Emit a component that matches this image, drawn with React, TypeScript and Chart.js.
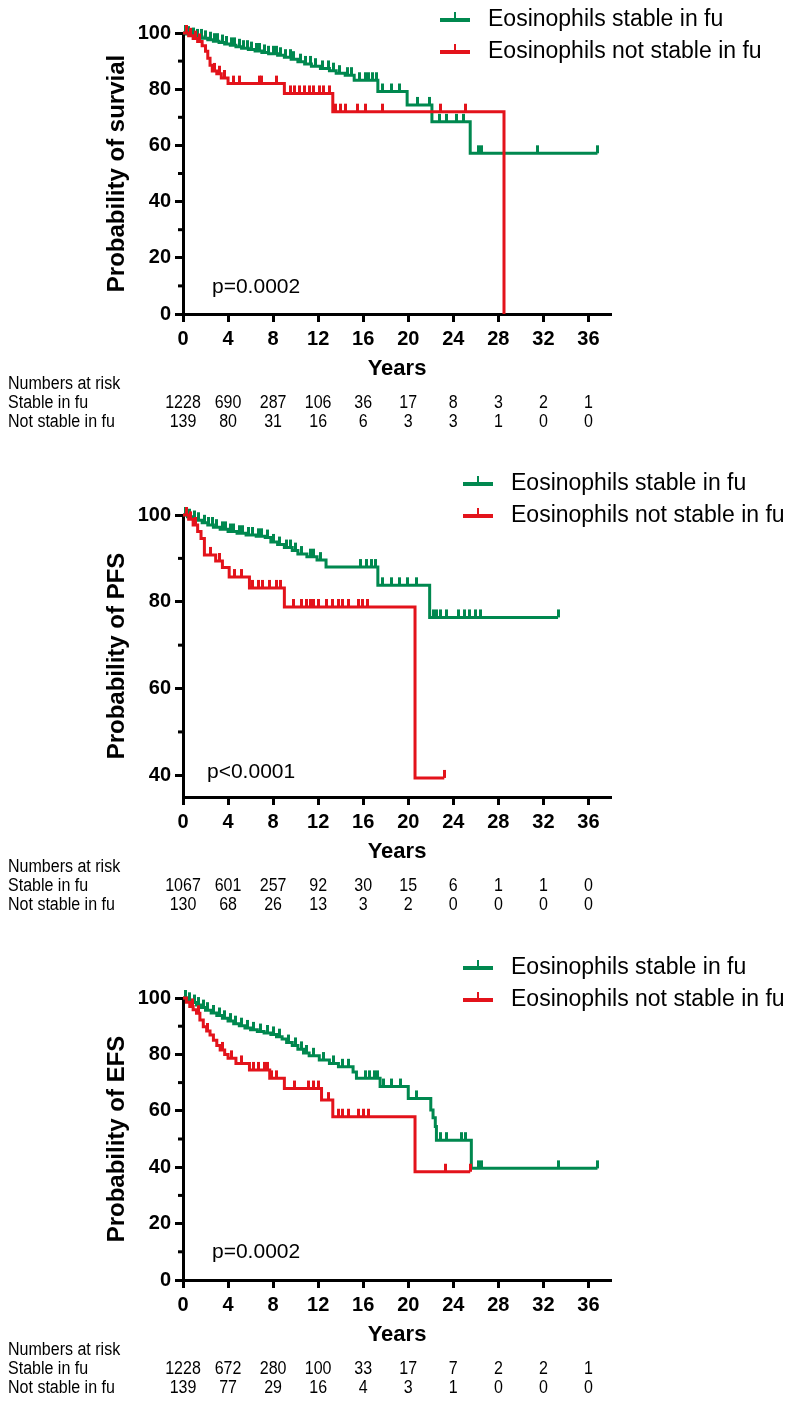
import React, { useEffect, useRef } from 'react';
import { Chart, registerables } from 'chart.js';

Chart.register(...registerables);

const GREEN = '#00884f';
const RED = '#e3131b';
const FONT = '"Liberation Sans", Arial, sans-serif';

const X_TICKS = [0, 4, 8, 12, 16, 20, 24, 28, 32, 36];
const X_MAX = 38;

// ---------- Panel 1: survival ----------
const OS_Y_TICKS = [0, 20, 40, 60, 80, 100];
const OS_Y_MINOR = [10, 30, 50, 70, 90];
const OS_STABLE_T = [0, 0.3, 0.7, 1.2, 1.7, 2.2, 2.7, 3.2, 3.7, 4.2, 4.7, 5.2, 5.8, 6.4, 7.0, 7.6, 8.4, 9.0, 9.6, 10.2, 10.8, 11.4, 12.2, 13.0, 13.6, 14.4, 15.2, 17.3, 19.9, 22.1, 25.5];
const OS_STABLE_S = [100, 99.6, 99.1, 98.6, 98.1, 97.6, 97.1, 96.6, 96.1, 95.6, 95.1, 94.6, 94.1, 93.6, 93.1, 92.6, 92.1, 91.4, 90.7, 89.8, 89.0, 88.2, 87.4, 86.6, 85.7, 85.0, 83.2, 79.2, 74.4, 68.4, 57.2];
const OS_STABLE_C = [0.2, 0.5, 0.9, 1.3, 1.6, 2.0, 2.4, 2.8, 3.1, 3.5, 3.9, 4.3, 4.6, 5.0, 5.4, 5.7, 6.1, 6.5, 6.8, 7.2, 7.6, 8.0, 8.3, 8.7, 9.1, 9.5, 9.8, 10.4, 10.9, 11.3, 11.8, 12.4, 12.9, 13.4, 13.9, 14.6, 15.0, 15.7, 16.2, 16.5, 16.8, 17.2, 17.7, 18.5, 19.2, 20.8, 21.9, 22.8, 23.4, 24.3, 24.9, 26.2, 26.5, 31.5, 36.8];
const OS_NOT_T = [0, 0.5, 0.9, 1.3, 1.7, 2.0, 2.2, 2.4, 2.6, 3.0, 3.4, 4.0, 9.0, 13.3, 28.5];
const OS_NOT_S = [100, 99, 98, 97, 95.5, 93.5, 91, 88.5, 86.5, 85.5, 84, 82, 78.5, 72, 0];
const OS_NOT_C = [0.3, 0.7, 1.1, 1.5, 2.8, 3.2, 3.7, 4.5, 5.0, 6.8, 7.0, 8.3, 9.5, 9.9, 10.3, 10.8, 11.2, 11.6, 12.1, 12.5, 13.0, 13.5, 14.0, 14.4, 15.5, 16.2, 17.7, 22.9, 25.1];
const OS_RISK_STABLE = [1228, 690, 287, 106, 36, 17, 8, 3, 2, 1];
const OS_RISK_NOT = [139, 80, 31, 16, 6, 3, 3, 1, 0, 0];

// ---------- Panel 2: PFS ----------
const PFS_Y_TICKS = [40, 60, 80, 100];
const PFS_Y_MINOR = [50, 70, 90];
const PFS_STABLE_T = [0, 0.4, 0.8, 1.2, 1.7, 2.2, 2.7, 3.3, 4.0, 4.8, 5.6, 6.5, 7.3, 7.8, 8.4, 9.0, 9.7, 10.2, 11.0, 11.9, 12.7, 17.3, 21.9];
const PFS_STABLE_S = [100, 99.6, 99.2, 98.8, 98.2, 97.7, 97.2, 96.7, 96.2, 95.8, 95.4, 95.1, 94.8, 93.8, 93.2, 92.5, 91.8, 91.0, 90.4, 89.6, 88.0, 83.8, 76.4];
const PFS_STABLE_C = [0.2, 0.6, 1.0, 1.4, 1.9, 2.3, 2.6, 3.0, 3.5, 3.8, 4.2, 4.5, 5.0, 5.3, 5.8, 6.2, 6.7, 7.0, 7.5, 8.0, 8.6, 9.2, 9.5, 10.0, 10.5, 11.3, 11.6, 12.2, 15.8, 16.3, 16.7, 17.1, 17.7, 18.5, 19.2, 19.9, 20.7, 22.2, 22.5, 22.9, 23.4, 24.5, 25.0, 25.4, 26.0, 26.4, 33.3];
const PFS_NOT_T = [0, 0.5, 0.9, 1.3, 1.6, 1.9, 2.9, 3.5, 4.1, 5.9, 9.0, 20.6];
const PFS_NOT_S = [100, 99, 97.7, 96.2, 94.6, 90.8, 89.4, 87.9, 85.7, 83.2, 78.8, 39.4];
const PFS_NOT_C = [0.3, 0.7, 1.1, 2.4, 3.2, 4.6, 5.2, 6.2, 6.7, 7.1, 7.7, 8.3, 8.7, 9.8, 10.5, 11.0, 11.3, 11.6, 12.0, 12.7, 13.3, 13.8, 14.2, 14.7, 15.6, 15.9, 16.4, 23.2];
const PFS_RISK_STABLE = [1067, 601, 257, 92, 30, 15, 6, 1, 1, 0];
const PFS_RISK_NOT = [130, 68, 26, 13, 3, 2, 0, 0, 0, 0];

// ---------- Panel 3: EFS ----------
const EFS_Y_TICKS = [0, 20, 40, 60, 80, 100];
const EFS_Y_MINOR = [10, 30, 50, 70, 90];
const EFS_STABLE_T = [0, 0.4, 0.8, 1.2, 1.6, 2.0, 2.5, 3.0, 3.5, 4.0, 4.5, 5.0, 5.5, 6.0, 6.6, 7.2, 7.8, 8.3, 8.8, 9.2, 9.7, 10.2, 10.7, 11.2, 12.1, 13.0, 13.8, 15.1, 15.4, 17.5, 20.0, 22.0, 22.2, 22.4, 22.5, 25.6];
const EFS_STABLE_S = [100, 99.2, 98.4, 97.5, 96.6, 95.7, 94.7, 93.8, 92.8, 91.8, 90.9, 90.2, 89.4, 88.7, 88.1, 87.6, 87.1, 86.3, 85.5, 84.2, 83.2, 81.8, 80.5, 79.5, 78.0, 76.8, 75.6, 73.8, 71.5, 68.6, 64.4, 60.3, 57.5, 54.4, 49.6, 39.6];
const EFS_STABLE_C = [0.2, 0.6, 1.0, 1.4, 1.8, 2.2, 2.7, 3.2, 3.7, 4.2, 4.7, 5.2, 5.7, 6.3, 6.9, 7.5, 8.0, 8.6, 9.4, 10.0, 10.5, 11.0, 11.6, 12.5, 13.4, 14.2, 14.7, 16.2, 16.6, 17.0, 17.3, 17.8, 18.5, 19.3, 20.7, 22.9, 23.4, 24.7, 25.1, 26.2, 26.5, 33.3, 36.8];
const EFS_NOT_T = [0, 0.3, 0.6, 0.9, 1.2, 1.5, 1.8, 2.1, 2.4, 2.7, 3.0, 3.3, 3.7, 4.0, 4.7, 5.9, 7.7, 9.0, 12.3, 13.3, 20.6];
const EFS_NOT_S = [100, 98.5, 97, 95.8, 94.6, 92.2, 89.8, 88.3, 86.9, 85, 83.2, 81.6, 80, 78.6, 76.8, 74.5, 71.5, 67.9, 63.8, 57.9, 38.4];
const EFS_NOT_C = [0.8, 1.4, 2.2, 3.5, 4.3, 5.2, 6.3, 6.7, 7.2, 7.5, 7.9, 8.3, 9.9, 11.1, 11.6, 12.0, 12.9, 13.8, 14.2, 14.7, 15.6, 16.0, 16.5, 23.3, 25.5];
const EFS_RISK_STABLE = [1228, 672, 280, 100, 33, 17, 7, 2, 2, 1];
const EFS_RISK_NOT = [139, 77, 29, 16, 4, 3, 1, 0, 0, 0];

const LEGEND_STABLE = 'Eosinophils stable in fu';
const LEGEND_NOT = 'Eosinophils not stable in fu';
const RISK_HEAD = 'Numbers at risk';
const RISK_LABEL_STABLE = 'Stable in fu';
const RISK_LABEL_NOT = 'Not stable in fu';

type Cfg = {
  top: number; height: number; areaTop: number; areaBottom: number;
  yMin: number; yTicks: number[]; yMinor: number[]; yTitle: string;
  pText: string; pX: number; pY: number;
  legendX: number; legendY1: number; legendY2: number;
  gT: number[]; gS: number[]; gC: number[];
  rT: number[]; rS: number[]; rC: number[];
  riskStable: number[]; riskNot: number[];
};

const PANELS: Cfg[] = [
  {
    top: 0, height: 440, areaTop: 33, areaBottom: 314, yMin: 0, yTicks: OS_Y_TICKS, yMinor: OS_Y_MINOR,
    yTitle: 'Probability of survial', pText: 'p=0.0002', pX: 212, pY: 287,
    legendX: 440, legendY1: 20, legendY2: 52,
    gT: OS_STABLE_T, gS: OS_STABLE_S, gC: OS_STABLE_C, rT: OS_NOT_T, rS: OS_NOT_S, rC: OS_NOT_C,
    riskStable: OS_RISK_STABLE, riskNot: OS_RISK_NOT,
  },
  {
    top: 460, height: 460, areaTop: 55, areaBottom: 337, yMin: 35, yTicks: PFS_Y_TICKS, yMinor: PFS_Y_MINOR,
    yTitle: 'Probability of PFS', pText: 'p<0.0001', pX: 207, pY: 312,
    legendX: 463, legendY1: 24, legendY2: 56,
    gT: PFS_STABLE_T, gS: PFS_STABLE_S, gC: PFS_STABLE_C, rT: PFS_NOT_T, rS: PFS_NOT_S, rC: PFS_NOT_C,
    riskStable: PFS_RISK_STABLE, riskNot: PFS_RISK_NOT,
  },
  {
    top: 930, height: 474, areaTop: 68, areaBottom: 350, yMin: 0, yTicks: EFS_Y_TICKS, yMinor: EFS_Y_MINOR,
    yTitle: 'Probability of EFS', pText: 'p=0.0002', pX: 212, pY: 322,
    legendX: 463, legendY1: 38, legendY2: 70,
    gT: EFS_STABLE_T, gS: EFS_STABLE_S, gC: EFS_STABLE_C, rT: EFS_NOT_T, rS: EFS_NOT_S, rC: EFS_NOT_C,
    riskStable: EFS_RISK_STABLE, riskNot: EFS_RISK_NOT,
  },
];

function valueAt(T: number[], S: number[], t: number) {
  let v = S[0];
  for (let i = 0; i < T.length; i++) if (T[i] <= t) v = S[i];
  return v;
}

function stepPoints(T: number[], S: number[], C: number[]) {
  const pts = T.map((t, i) => ({ x: t, y: S[i] }));
  const end = Math.max(...C);
  if (end > T[T.length - 1]) pts.push({ x: end, y: S[S.length - 1] });
  return pts;
}

function censorPoints(T: number[], S: number[], C: number[]) {
  return C.map((t) => ({ x: t, y: valueAt(T, S, t) }));
}

function makeTick(color: string) {
  const c = document.createElement('canvas');
  c.width = 3;
  c.height = 18;
  const g = c.getContext('2d')!;
  g.fillStyle = color;
  g.fillRect(0, 1, 3, 8);
  return c;
}

function text(ctx: CanvasRenderingContext2D, s: string, x: number, y: number, font: string, align: CanvasTextAlign, sx = 1) {
  ctx.save();
  ctx.font = font;
  ctx.fillStyle = '#000';
  ctx.textAlign = align;
  ctx.textBaseline = 'middle';
  ctx.translate(x, y);
  ctx.scale(sx, 1);
  ctx.fillText(s, 0, 0);
  ctx.restore();
}

function extras(cfg: Cfg) {
  return {
    id: 'extras',
    afterDraw(chart: any) {
      const ctx: CanvasRenderingContext2D = chart.ctx;
      const a = chart.chartArea;
      const xs = chart.scales.x;
      const ys = chart.scales.y;
      ctx.save();
      ctx.strokeStyle = '#000';
      ctx.lineWidth = 3;
      for (const v of cfg.yMinor) {
        const py = ys.getPixelForValue(v);
        ctx.beginPath();
        ctx.moveTo(a.left - 5, py);
        ctx.lineTo(a.left, py);
        ctx.stroke();
      }
      ctx.restore();

      // y title
      ctx.save();
      ctx.translate(117, (a.top + a.bottom) / 2);
      ctx.rotate(-Math.PI / 2);
      ctx.font = `bold 24px ${FONT}`;
      ctx.fillStyle = '#000';
      ctx.textAlign = 'center';
      ctx.textBaseline = 'middle';
      ctx.fillText(cfg.yTitle, 0, 0);
      ctx.restore();

      // x title
      text(ctx, 'Years', (a.left + a.right) / 2, a.bottom + 55, `bold 22px ${FONT}`, 'center');

      // p value
      text(ctx, cfg.pText, cfg.pX, cfg.pY, `21px ${FONT}`, 'left');

      // legend
      const legendRows: [string, string, number][] = [
        [GREEN, LEGEND_STABLE, cfg.legendY1],
        [RED, LEGEND_NOT, cfg.legendY2],
      ];
      for (const [col, label, ly] of legendRows) {
        ctx.save();
        ctx.strokeStyle = col;
        ctx.lineWidth = 4;
        ctx.beginPath();
        ctx.moveTo(cfg.legendX, ly);
        ctx.lineTo(cfg.legendX + 30, ly);
        ctx.stroke();
        ctx.fillStyle = col;
        ctx.fillRect(cfg.legendX + 14, ly - 8, 2, 8);
        ctx.restore();
        text(ctx, label, cfg.legendX + 48, ly, `23px ${FONT}`, 'left');
      }

      // numbers at risk
      const tf = `18px ${FONT}`;
      const sx = 0.89;
      text(ctx, RISK_HEAD, 8, a.bottom + 70, tf, 'left', sx);
      text(ctx, RISK_LABEL_STABLE, 8, a.bottom + 89, tf, 'left', sx);
      text(ctx, RISK_LABEL_NOT, 8, a.bottom + 108, tf, 'left', sx);
      X_TICKS.forEach((t, i) => {
        const px = xs.getPixelForValue(t);
        text(ctx, String(cfg.riskStable[i]), px, a.bottom + 89, tf, 'center', sx);
        text(ctx, String(cfg.riskNot[i]), px, a.bottom + 108, tf, 'center', sx);
      });
    },
  };
}

function Panel({ cfg }: { cfg: Cfg }) {
  const ref = useRef<HTMLCanvasElement>(null);
  useEffect(() => {
    const canvas = ref.current!;
    const gTick = makeTick(GREEN);
    const rTick = makeTick(RED);
    const XH = 40;
    const tickFont = { family: FONT, size: 20, weight: 'bold' as const };
    const chart = new Chart(canvas, {
      type: 'line',
      data: {
        datasets: [
          { data: stepPoints(cfg.rT, cfg.rS, cfg.rC), borderColor: RED, borderWidth: 3, stepped: true, pointRadius: 0, fill: false, clip: false } as any,
          { data: censorPoints(cfg.rT, cfg.rS, cfg.rC), showLine: false, pointStyle: rTick, pointRadius: 4, clip: false } as any,
          { data: stepPoints(cfg.gT, cfg.gS, cfg.gC), borderColor: GREEN, borderWidth: 3, stepped: true, pointRadius: 0, fill: false, clip: false } as any,
          { data: censorPoints(cfg.gT, cfg.gS, cfg.gC), showLine: false, pointStyle: gTick, pointRadius: 4, clip: false } as any,
        ],
      },
      options: {
        animation: false,
        responsive: false,
        maintainAspectRatio: false,
        events: [],
        layout: { padding: { left: 0, top: cfg.areaTop, right: 800 - 611, bottom: cfg.height - cfg.areaBottom - XH } },
        plugins: { legend: { display: false }, tooltip: { enabled: false } },
        scales: {
          x: {
            type: 'linear', min: 0, max: X_MAX,
            afterBuildTicks: (s: any) => { s.ticks = X_TICKS.map((v) => ({ value: v })); },
            afterFit: (s: any) => { s.height = XH; },
            ticks: { font: tickFont, color: '#000', padding: 5, maxRotation: 0, autoSkip: false },
            grid: { drawOnChartArea: false, color: '#000', tickLength: 8, tickWidth: 3 },
            border: { color: '#000', width: 3 },
          },
          y: {
            type: 'linear', min: cfg.yMin, max: 100,
            afterBuildTicks: (s: any) => { s.ticks = cfg.yTicks.map((v) => ({ value: v })); },
            afterFit: (s: any) => { s.width = 183; },
            ticks: { font: tickFont, color: '#000', padding: 4, autoSkip: false },
            grid: { drawOnChartArea: false, color: '#000', tickLength: 8, tickWidth: 3 },
            border: { color: '#000', width: 3 },
          },
        },
      } as any,
      plugins: [extras(cfg)],
    });
    return () => chart.destroy();
  }, [cfg]);
  return (
    <canvas
      ref={ref}
      width={800}
      height={cfg.height}
      style={{ position: 'absolute', left: 0, top: cfg.top, display: 'block' }}
    />
  );
}

export default function App() {
  return (
    <div style={{ position: 'absolute', left: 0, top: 0, width: 800, height: 1404, background: '#fff' }}>
      {PANELS.map((p, i) => (
        <Panel key={i} cfg={p} />
      ))}
    </div>
  );
}
